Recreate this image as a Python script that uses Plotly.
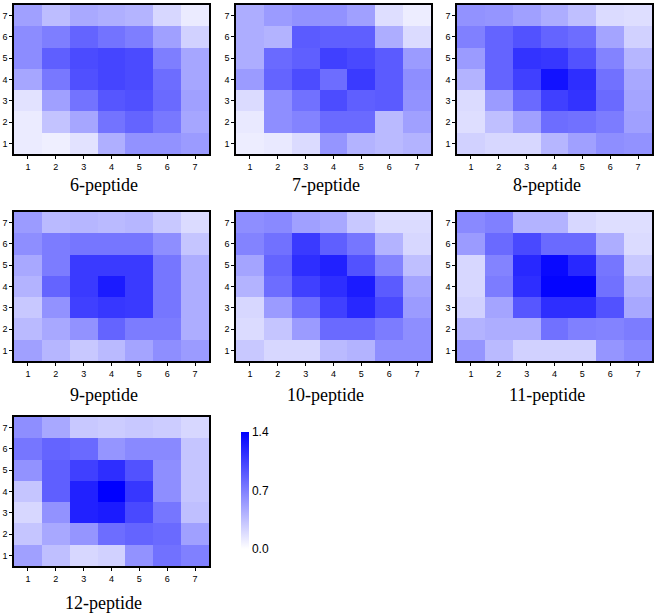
import plotly.graph_objects as go

W, H = 657, 615

positions = [1, 2, 3, 4, 5, 6, 7]
titles = ["6-peptide", "7-peptide", "8-peptide", "9-peptide",
          "10-peptide", "11-peptide", "12-peptide"]

# Each matrix listed top row (y=7) first, down to y=1; columns x=1..7
p6 = [
    [0.52, 0.36, 0.47, 0.44, 0.41, 0.22, 0.11],
    [0.63, 0.71, 0.85, 0.77, 0.71, 0.52, 0.25],
    [0.63, 0.88, 0.99, 1.02, 0.99, 0.71, 0.49],
    [0.49, 0.74, 0.96, 1.02, 0.99, 0.80, 0.49],
    [0.16, 0.52, 0.77, 0.93, 0.96, 0.82, 0.52],
    [0.11, 0.33, 0.49, 0.77, 0.85, 0.74, 0.49],
    [0.11, 0.09, 0.16, 0.44, 0.60, 0.60, 0.55],
]
p7 = [
    [0.45, 0.55, 0.60, 0.60, 0.52, 0.18, 0.10],
    [0.45, 0.42, 0.90, 0.88, 0.88, 0.45, 0.20],
    [0.45, 0.82, 0.88, 1.05, 1.00, 0.90, 0.55],
    [0.55, 0.85, 0.98, 0.80, 1.08, 0.90, 0.62],
    [0.20, 0.62, 0.78, 0.98, 0.88, 0.90, 0.60],
    [0.12, 0.62, 0.68, 0.82, 0.82, 0.38, 0.52],
    [0.10, 0.12, 0.20, 0.58, 0.42, 0.38, 0.42],
]
p8 = [
    [0.60, 0.58, 0.52, 0.45, 0.35, 0.20, 0.18],
    [0.70, 0.85, 0.95, 0.85, 0.80, 0.50, 0.25],
    [0.55, 0.85, 1.12, 1.10, 0.95, 0.68, 0.40],
    [0.42, 0.85, 1.05, 1.30, 1.15, 0.78, 0.48],
    [0.20, 0.55, 0.82, 1.05, 1.12, 0.82, 0.50],
    [0.18, 0.35, 0.52, 0.80, 0.78, 0.72, 0.52],
    [0.25, 0.22, 0.22, 0.40, 0.52, 0.62, 0.60],
]
p9 = [
    [0.55, 0.38, 0.40, 0.38, 0.40, 0.30, 0.20],
    [0.62, 0.72, 0.75, 0.75, 0.75, 0.62, 0.32],
    [0.48, 0.72, 1.08, 1.08, 1.08, 0.75, 0.45],
    [0.42, 0.85, 1.08, 1.25, 1.08, 0.75, 0.45],
    [0.30, 0.60, 1.05, 1.10, 1.08, 0.75, 0.45],
    [0.38, 0.48, 0.60, 0.85, 0.72, 0.72, 0.45],
    [0.52, 0.40, 0.30, 0.38, 0.50, 0.62, 0.55],
]
p10 = [
    [0.62, 0.65, 0.52, 0.48, 0.30, 0.20, 0.20],
    [0.68, 0.78, 1.08, 0.88, 0.75, 0.42, 0.22],
    [0.50, 0.85, 1.15, 1.22, 0.95, 0.68, 0.35],
    [0.42, 0.80, 1.05, 1.15, 1.25, 0.90, 0.50],
    [0.22, 0.55, 0.80, 1.05, 1.18, 1.00, 0.55],
    [0.20, 0.32, 0.55, 0.82, 0.82, 0.72, 0.62],
    [0.30, 0.22, 0.22, 0.38, 0.42, 0.62, 0.62],
]
p11 = [
    [0.65, 0.70, 0.42, 0.42, 0.22, 0.18, 0.18],
    [0.55, 0.82, 1.00, 0.82, 0.82, 0.45, 0.20],
    [0.22, 0.68, 1.18, 1.35, 1.18, 0.75, 0.30],
    [0.22, 0.72, 1.15, 1.38, 1.38, 0.78, 0.42],
    [0.25, 0.50, 0.92, 1.15, 1.15, 0.95, 0.48],
    [0.42, 0.45, 0.45, 0.78, 0.70, 0.68, 0.72],
    [0.58, 0.38, 0.25, 0.25, 0.25, 0.58, 0.65],
]
p12 = [
    [0.62, 0.48, 0.30, 0.28, 0.30, 0.28, 0.22],
    [0.75, 0.85, 0.82, 0.58, 0.65, 0.65, 0.32],
    [0.60, 0.88, 1.05, 1.15, 0.95, 0.62, 0.32],
    [0.32, 0.88, 1.22, 1.40, 1.10, 0.62, 0.32],
    [0.22, 0.60, 1.22, 1.25, 1.00, 0.75, 0.35],
    [0.32, 0.48, 0.58, 0.80, 0.85, 0.82, 0.52],
    [0.52, 0.35, 0.22, 0.25, 0.60, 0.78, 0.70],
]
matrices = [p6, p7, p8, p9, p10, p11, p12]

cb_ticks = [0.0, 0.7, 1.4]

# pixel boxes of the panels (left, right, top, bottom)
cols = [(14, 209), (236, 431), (457, 652)]
rows = [(5, 154), (212, 361), (417, 566)]
title_y = [185, 395, 603]

colorscale = [[0, "rgb(255,255,255)"], [1, "rgb(0,0,255)"]]

fig = go.Figure()
annotations = []
for i, (m, t) in enumerate(zip(matrices, titles)):
    r, c = divmod(i, 3)
    xl, xr = cols[c]
    yt, yb = rows[r]
    n = i + 1
    xa = "x" if n == 1 else f"x{n}"
    ya = "y" if n == 1 else f"y{n}"
    fig.add_trace(go.Heatmap(
        z=m[::-1], x=positions, y=positions,
        colorscale=colorscale, zmin=0, zmax=1.4,
        showscale=(i == 0),
        xaxis=xa, yaxis=ya,
        colorbar=dict(
            x=241 / W, xanchor="left", y=1 - 490.5 / H, yanchor="middle",
            len=117 / H, lenmode="fraction", thickness=8, outlinewidth=0,
            tickvals=cb_ticks, ticktext=[f"{v:.1f}" for v in cb_ticks],
            ticks="", tickfont=dict(family="Liberation Sans", size=12, color="black"),
            ypad=0, xpad=0,
        ) if i == 0 else None,
    ))
    axis_common = dict(
        showline=True, linecolor="black", linewidth=1.5, mirror=True,
        ticks="outside", ticklen=3, tickwidth=1, tickcolor="black",
        tickvals=positions, showgrid=False, zeroline=False,
        tickfont=dict(family="Liberation Sans", size=9, color="black"),
        range=[0.5, 7.5], fixedrange=True,
    )
    fig.update_layout(**{
        ("xaxis" if n == 1 else f"xaxis{n}"): dict(
            domain=[xl / W, xr / W], anchor=ya, **axis_common),
        ("yaxis" if n == 1 else f"yaxis{n}"): dict(
            domain=[1 - yb / H, 1 - yt / H], anchor=xa, **axis_common),
    })
    annotations.append(dict(
        text=t, xref="paper", yref="paper",
        x=((xl + xr) / 2 - 8) / W, y=1 - title_y[r] / H,
        xanchor="center", yanchor="middle", showarrow=False,
        font=dict(family="Liberation Serif", size=18, color="black"),
    ))

fig.update_layout(
    width=W, height=H,
    margin=dict(l=0, r=0, t=0, b=0),
    paper_bgcolor="white", plot_bgcolor="white",
    annotations=annotations,
)

fig.write_html(
    "out.html",
    config={"displayModeBar": False},
    post_script="document.body.style.margin='0px';document.body.style.overflow='hidden';",
)
